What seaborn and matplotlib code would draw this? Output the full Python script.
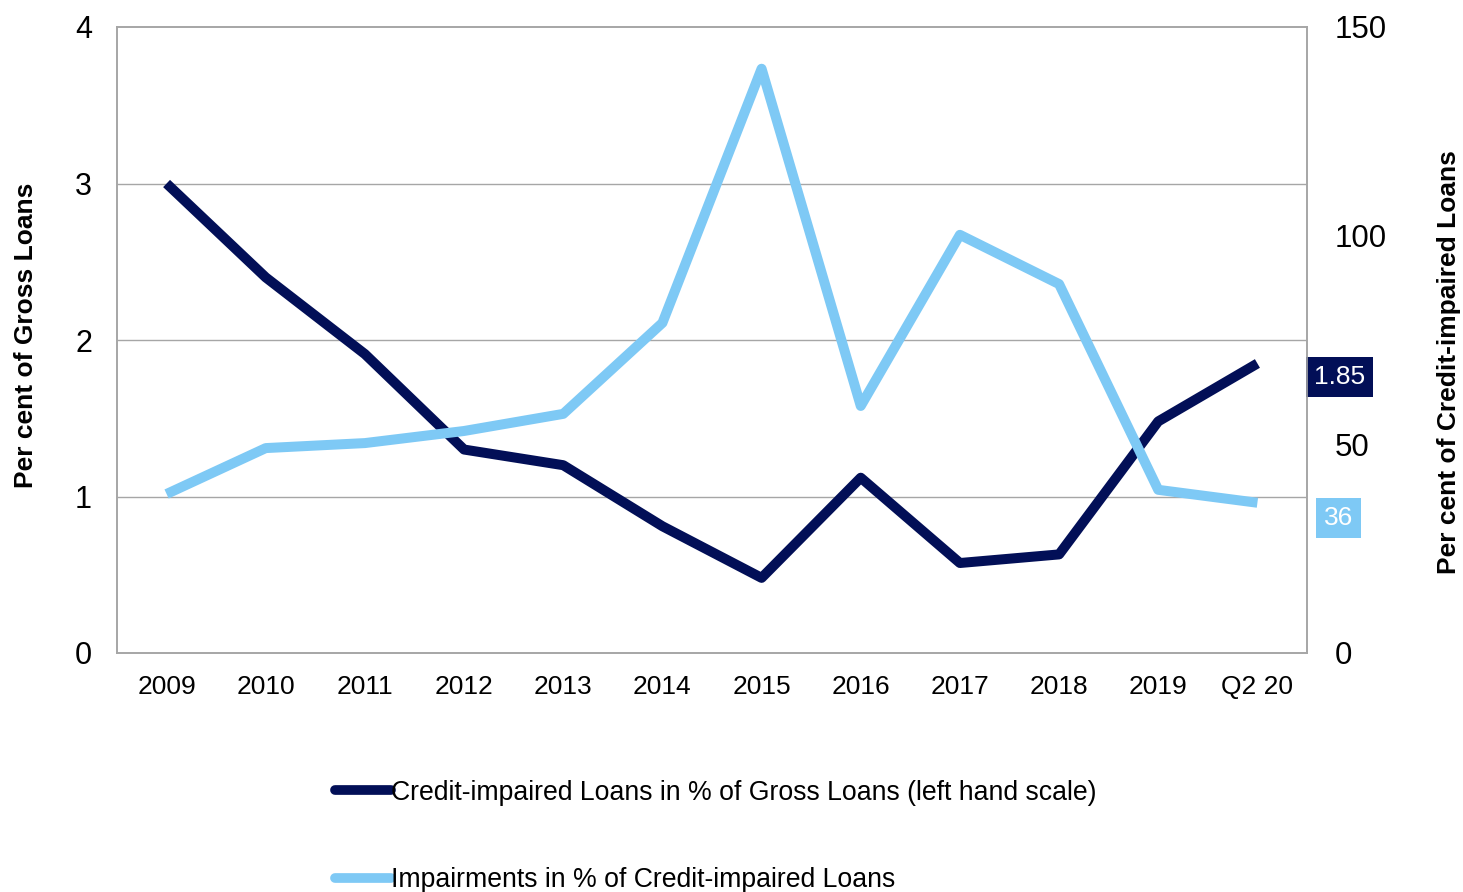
import matplotlib
matplotlib.use("Agg")
import matplotlib.pyplot as plt
import matplotlib.transforms as mtransforms
import seaborn as sns
import pandas as pd

# Chart data
categories = ["2009", "2010", "2011", "2012", "2013", "2014", "2015",
              "2016", "2017", "2018", "2019", "Q2 20"]
credit_impaired_pct_gross = [3.00, 2.40, 1.91, 1.30, 1.20, 0.81, 0.48,
                             1.12, 0.575, 0.63, 1.48, 1.85]
impairments_pct_impaired = [38.1, 49.1, 50.3, 53.2, 57.3, 79.1, 140.0,
                            59.2, 100.2, 88.4, 39.1, 36.0]

left_ticks = [0, 1, 2, 3, 4]
right_ticks = [0, 50, 100, 150]

label_dark = "Credit-impaired Loans in % of Gross Loans (left hand scale)"
label_light = "Impairments in % of Credit-impaired Loans"
ylabel_left = "Per cent of Gross Loans"
ylabel_right = "Per cent of Credit-impaired Loans"

DARK = "#020F57"
LIGHT = "#7EC9F5"
GRID = "#A6A6A6"

sns.set_theme(style="white")
plt.rcParams["font.family"] = ["Liberation Sans", "DejaVu Sans"]
plt.rcParams["text.color"] = "black"
plt.rcParams["axes.labelcolor"] = "black"

df = pd.DataFrame({
    "pos": list(range(len(categories))),
    "dark": credit_impaired_pct_gross,
    "light": impairments_pct_impaired,
})

fig = plt.figure(figsize=(14.63, 8.92), dpi=100)
ax = fig.add_axes([117 / 1463, 1 - 653 / 892, (1307 - 117) / 1463, (653 - 27) / 892])
ax2 = ax.twinx()

lw = 7.2
sns.lineplot(data=df, x="pos", y="dark", ax=ax, color=DARK, linewidth=lw,
             label=label_dark, legend=False, solid_capstyle="butt")
sns.lineplot(data=df, x="pos", y="light", ax=ax2, color=LIGHT, linewidth=lw,
             label=label_light, legend=False, solid_capstyle="butt")

ax.set_xlim(-0.5, len(categories) - 0.5)
ax.set_ylim(0, 4)
ax2.set_ylim(0, 150)
ax.set_yticks(left_ticks)
ax2.set_yticks(right_ticks)
ax.set_xticks(range(len(categories)))
ax.set_xticklabels(categories)

ax.grid(False)
ax2.grid(False)
for y in left_ticks[1:-1]:
    ax.axhline(y, color=GRID, linewidth=1.0, zorder=0)

for a in (ax, ax2):
    for s in a.spines.values():
        s.set_color(GRID)
        s.set_linewidth(1.2)
    a.tick_params(length=0)

ax.tick_params(axis="y", labelsize=22, pad=18, labelcolor="black")
ax.tick_params(axis="x", labelsize=19, pad=16, labelcolor="black")
ax2.tick_params(axis="y", labelsize=22.5, pad=20, labelcolor="black")

ax.set_xlabel("")
ax.set_ylabel(ylabel_left, fontsize=19, fontweight="bold", color="black")
ax2.set_ylabel(ylabel_right, fontsize=19, fontweight="bold", color="black")
ax.yaxis.set_label_coords(-0.066, 0.508)
ax2.yaxis.set_label_coords(1.109, 0.465)

# Value tags on the right edge for the latest observation
tr1 = mtransforms.blended_transform_factory(ax.transAxes, ax.transData)
ax.annotate(f"{credit_impaired_pct_gross[-1]:.2f}", xy=(1.0, credit_impaired_pct_gross[-1]),
            xycoords=tr1, xytext=(5, -10), textcoords="offset points",
            ha="left", va="center", fontsize=19, color="white",
            bbox=dict(boxstyle="square,pad=0.3", fc=DARK, ec="none"),
            annotation_clip=False)
tr2 = mtransforms.blended_transform_factory(ax2.transAxes, ax2.transData)
ax2.annotate(f"{impairments_pct_impaired[-1]:.0f}", xy=(1.0, impairments_pct_impaired[-1]),
             xycoords=tr2, xytext=(12, -11), textcoords="offset points",
             ha="left", va="center", fontsize=19, color="white",
             bbox=dict(boxstyle="square,pad=0.3", fc=LIGHT, ec="none"),
             annotation_clip=False)

h1, l1 = ax.get_legend_handles_labels()
h2, l2 = ax2.get_legend_handles_labels()
leg = fig.legend(h1 + h2, l1 + l2, loc="upper left",
                 bbox_to_anchor=(324 / 1463, 1 - 769 / 892),
                 frameon=False, fontsize=19.2, handlelength=2.13, handletextpad=0.0,
                 labelspacing=2.3, borderaxespad=0)
for line in leg.get_lines():
    line.set_solid_capstyle("round")
    line.set_linewidth(7)
for t in leg.get_texts():
    t.set_color("black")

fig.savefig("out.png", dpi=100)
